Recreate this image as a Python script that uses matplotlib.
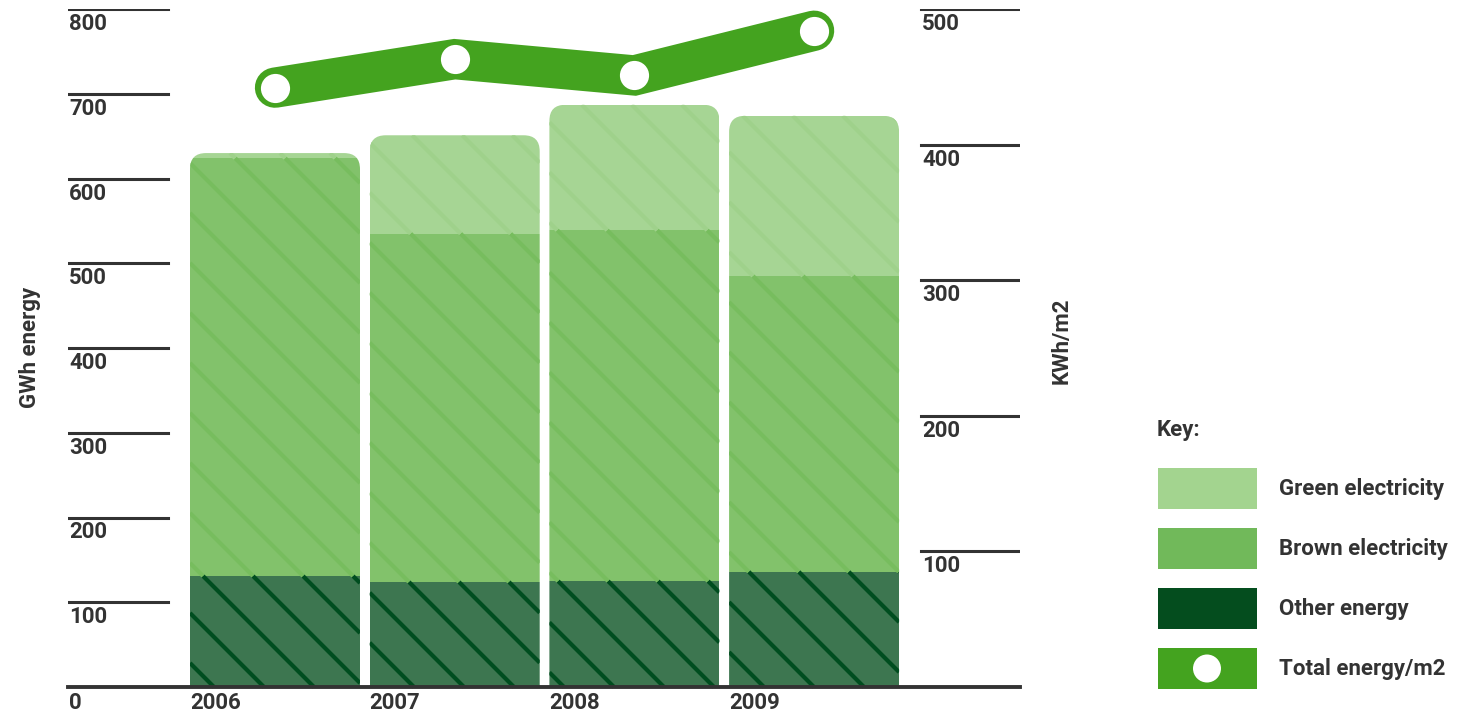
import matplotlib
matplotlib.use("Agg")
import matplotlib.pyplot as plt
from matplotlib.patches import FancyBboxPatch, Rectangle, Circle
from matplotlib.lines import Line2D
from matplotlib.transforms import IdentityTransform
import numpy as np

plt.rcParams['font.family'] = ['Roboto', 'DejaVu Sans']
plt.rcParams['font.weight'] = 'bold'

years = ["2006", "2007", "2008", "2009"]
other_energy = [131, 124, 125, 136]
brown_electricity = [493, 411, 414, 349]
green_electricity = [6, 116, 148, 189]
total_per_m2 = [442, 463, 451, 484]
left_ticks = [100, 200, 300, 400, 500, 600, 700, 800]
right_ticks = [100, 200, 300, 400, 500]

C_GREEN = "#a6d594"
C_BROWN = "#82c26b"
C_OTHER = "#3d7650"
H_GREEN = "#9fd18b"
H_BROWN = "#77bd5e"
H_OTHER = "#004d1f"
L_GREEN = "#a3d48f"
L_BROWN = "#71b95a"
L_OTHER = "#044d1e"
C_LINE = "#44a31f"
TXT = "#333333"
FS = 16

W, H = 1476, 715
fig = plt.figure(figsize=(W / 100, H / 100), dpi=100)
ax = fig.add_axes([68 / W, 1 - 687 / H, (1020 - 68) / W, (687 - 9) / H])
ax.set_xlim(-207 / 179.7, 745 / 179.7)
ax.set_ylim(0, 800)
ax.axis("off")

x = np.arange(len(years))
bw = 170 / 179.7

segs = [(other_energy, C_OTHER, H_OTHER),
        (brown_electricity, C_BROWN, H_BROWN),
        (green_electricity, C_GREEN, H_GREEN)]

bottoms = np.zeros(len(years))
fig.canvas.draw()
tr = ax.transData
for vals, col, hcol in segs:
    bars = ax.bar(x, vals, bw, bottom=bottoms, color=col, linewidth=0, zorder=2)
    for i, rect in enumerate(bars.patches):
        total = other_energy[i] + brown_electricity[i] + green_electricity[i]
        (px0, py0) = tr.transform((x[i] - bw / 2, -50))
        (px1, py1) = tr.transform((x[i] + bw / 2, total))
        clip = FancyBboxPatch((px0, py0), px1 - px0, py1 - py0,
                              boxstyle="round,pad=0,rounding_size=16",
                              transform=IdentityTransform())
        rect.set_clip_path(clip)
        (sx0, sy0) = tr.transform((x[i] - bw / 2, bottoms[i]))
        (sx1, sy1) = tr.transform((x[i] + bw / 2, bottoms[i] + vals[i]))
        for c in np.arange(42, 3000, 50.0):
            a = max(sx0, c - sy1)
            b = min(sx1, c - sy0)
            if b > a:
                ln = Line2D([a, b], [c - a, c - b], color=hcol, lw=3.0,
                            transform=IdentityTransform(), zorder=3,
                            solid_capstyle='butt')
                ln.set_clip_path(clip)
                ax.add_artist(ln)
    bottoms = bottoms + np.array(vals)

for v in left_ticks:
    ax.axhline(v, xmin=0, xmax=100 / 952, color=TXT, lw=2.2, zorder=1)
    ax.annotate(str(v), xy=(0, v), xycoords=('axes fraction', 'data'),
                xytext=(1, -4), textcoords='offset pixels', ha='left', va='top',
                fontsize=FS, color=TXT, fontweight='bold')
ax.annotate("0", xy=(0, 0), xycoords=('axes fraction', 'data'),
            xytext=(1, -5), textcoords='offset pixels', ha='left', va='top',
            fontsize=FS, color=TXT, fontweight='bold')
for i, yr in enumerate(years):
    ax.annotate(yr, xy=(x[i] - bw / 2, 0), xycoords='data',
                xytext=(0, -5), textcoords='offset pixels', ha='left', va='top',
                fontsize=FS, color=TXT, fontweight='bold')

ax.axhline(0, color=TXT, lw=2.8, zorder=5, clip_on=False)

ax2 = ax.twinx()
ax2.set_ylim(0, 500)
ax2.axis("off")
for v in right_ticks:
    ax2.axhline(v, xmin=853 / 952, xmax=1, color=TXT, lw=2.2, zorder=1)
    ax2.annotate(str(v), xy=(853 / 952, v), xycoords=('axes fraction', 'data'),
                 xytext=(1, -4), textcoords='offset pixels', ha='left', va='top',
                 fontsize=FS, color=TXT, fontweight='bold')

ax2.plot(x, total_per_m2, color=C_LINE, lw=29, solid_capstyle='round',
         solid_joinstyle='miter', marker='o', markersize=21,
         markerfacecolor='white', markeredgewidth=0, clip_on=False, zorder=6)

fig.text(30 / W, 1 - 347 / H, "GWh energy", rotation=90, ha='center', va='center',
         fontsize=FS, color=TXT, fontweight='bold')
fig.text(1062 / W, 1 - 341 / H, "KWh/m2", rotation=90, ha='center', va='center',
         fontsize=FS, color=TXT, fontweight='bold')

fig.text(1157 / W, 1 - 430 / H, "Key:", ha='left', va='center',
         fontsize=FS, color=TXT, fontweight='bold')
key_items = [("Green electricity", L_GREEN), ("Brown electricity", L_BROWN),
             ("Other energy", L_OTHER), ("Total energy/m2", C_LINE)]
for k, (lab, col) in enumerate(key_items):
    top = 468 + 60 * k
    fig.add_artist(Rectangle((1158 / W, 1 - (top + 41) / H), 99 / W, 41 / H,
                             transform=fig.transFigure, color=col, lw=0))
    if k == 3:
        fig.add_artist(Circle((1207, H - (top + 20.5)), 14, transform=IdentityTransform(),
                              color='white', lw=0))
    fig.text(1279 / W, 1 - (top + 20.5) / H, lab, ha='left', va='center',
             fontsize=FS, color=TXT, fontweight='bold')

fig.savefig("out.png", dpi=100)
